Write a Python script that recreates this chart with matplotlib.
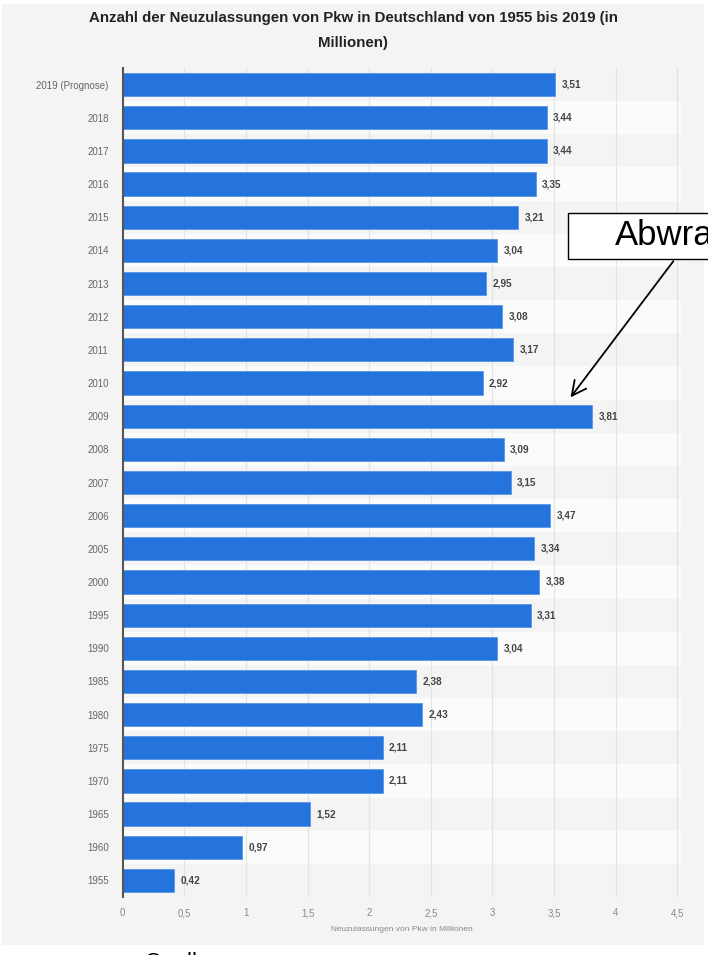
import matplotlib
matplotlib.use("Agg")
import matplotlib.pyplot as plt
from matplotlib.patches import Rectangle

categories = ["2019 (Prognose)", "2018", "2017", "2016", "2015", "2014", "2013",
              "2012", "2011", "2010", "2009", "2008", "2007", "2006", "2005",
              "2000", "1995", "1990", "1985", "1980", "1975", "1970", "1965",
              "1960", "1955"]
values = [3.51, 3.44, 3.44, 3.35, 3.21, 3.04, 2.95, 3.08, 3.17, 2.92, 3.81,
          3.09, 3.15, 3.47, 3.34, 3.38, 3.31, 3.04, 2.38, 2.43, 2.11, 2.11,
          1.52, 0.97, 0.42]
xticks = [0, 0.5, 1, 1.5, 2, 2.5, 3, 3.5, 4, 4.5]
xticklabels = ["0", "0,5", "1", "1,5", "2", "2,5", "3", "3,5", "4", "4,5"]

W, H = 708, 955
fig = plt.figure(figsize=(W / 100, H / 100), dpi=100)
fig.patch.set_facecolor("white")
plt.rcParams["font.family"] = ["Liberation Sans", "DejaVu Sans"]

# outer grey panel
bg = Rectangle((2 / W, 1 - 945 / H), 702 / W, 941 / H,
               transform=fig.transFigure, facecolor="#f4f4f4",
               edgecolor="none", zorder=-10)
fig.patches.append(bg)

ax = fig.add_axes([122.7 / W, 1 - 897 / H, 558.3 / W, 829 / H])
ax.set_zorder(1)
ax.set_facecolor("none")
n = len(categories)
ypos = list(range(n))

# alternating row stripes
for i in ypos:
    if i % 2 == 1:
        ax.axhspan(i - 0.5, i + 0.5, color="#fbfbfb", zorder=0, lw=0)

for xv in xticks[1:]:
    ax.axvline(xv, color="#e4e4e4", lw=0.9, zorder=1)

ax.barh(ypos, values, height=0.7, color="#2574dd", edgecolor="#5a95e6",
        linewidth=0.6, zorder=3)
for y, v in zip(ypos, values):
    ax.text(v + 0.05, y, f"{v:.2f}".replace(".", ","), va="center", ha="left",
            fontsize=7.2, fontweight="bold", color="#444444", zorder=4)

ax.set_xlim(0, 4.53)
ax.set_ylim(n - 0.5, -0.5)
ax.set_yticks(ypos)
ax.set_yticklabels(categories, fontsize=7, color="#666666")
ax.set_xticks(xticks)
ax.set_xticklabels(xticklabels, fontsize=7, color="#888888")
ax.tick_params(axis="both", length=0)
ax.tick_params(axis="y", pad=10)
ax.tick_params(axis="x", pad=8)
for s in ["top", "right", "bottom"]:
    ax.spines[s].set_visible(False)
ax.spines["left"].set_color("#555555")
ax.spines["left"].set_linewidth(1.5)
ax.spines["left"].set_zorder(5)
ax.set_xlabel("Neuzulassungen von Pkw in Millionen", fontsize=6, color="#888888",
              labelpad=6)

fig.text(353 / W, 1 - 18 / H,
         "Anzahl der Neuzulassungen von Pkw in Deutschland von 1955 bis 2019 (in",
         ha="center", va="center", fontsize=10.8, fontweight="bold", color="#222222")
fig.text(353 / W, 1 - 43 / H, "Millionen)", ha="center", va="center",
         fontsize=10.8, fontweight="bold", color="#222222")

# annotation box (cut off at right edge, as in the source)
fig.patches.append(Rectangle((568 / W, 1 - 259 / H), 200 / W, 46 / H,
                             transform=fig.transFigure, facecolor="white",
                             edgecolor="black", lw=1.0, zorder=10))
fig.text(615 / W, 1 - 236 / H, "Abwrackprämie", ha="left", va="center",
         fontsize=25, color="black", zorder=11)
ax.annotate("", xy=(3.62, 10 - 0.5), xycoords="data",
            xytext=(675 / W, 1 - 259 / H), textcoords="figure fraction",
            arrowprops=dict(arrowstyle="->", color="black", lw=1.3,
                            mutation_scale=26), zorder=11, annotation_clip=False)

fig.text(145 / W, 1 - 968 / H, "Quelle", ha="left", va="baseline", fontsize=16,
         color="black")

fig.savefig("out.png", dpi=100)
